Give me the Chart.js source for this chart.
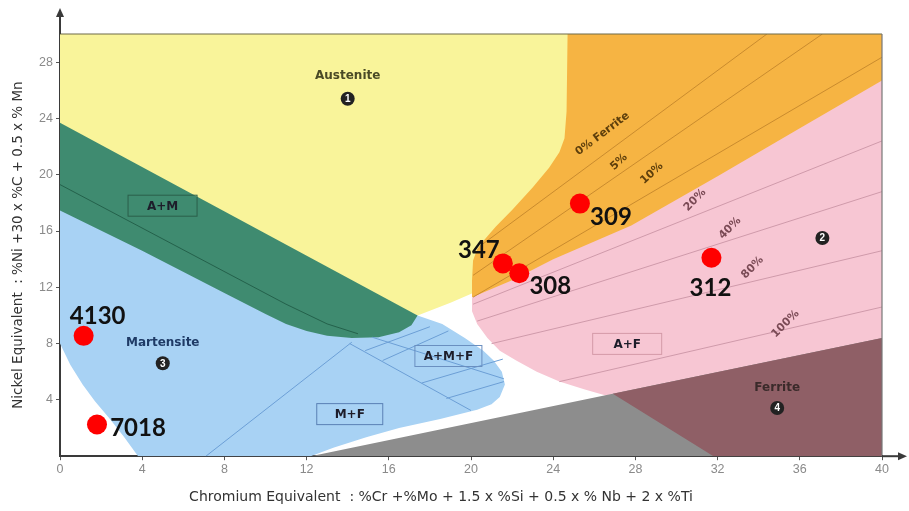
<!DOCTYPE html>
<html>
<head>
<meta charset="utf-8">
<script src="https://cdn.jsdelivr.net/npm/chart.js@4.4.0/dist/chart.umd.min.js"></script>
<style>
  html, body { margin: 0; padding: 0; background: #fff; }
  #wrap { width: 909px; height: 511px; }
</style>
</head>
<body>
<div id="wrap"><canvas id="schaeffler"></canvas></div>
<script>
// tick labels
var xTicks = [0, 4, 8, 12, 16, 20, 24, 28, 32, 36, 40];
var yTicks = [4, 8, 12, 16, 20, 24, 28];

// steels / filler metals plotted on the diagram
var alloyNames = ['309', '347', '308', '312', '4130', '7018'];
var alloyCrEq  = [25.3, 21.55, 22.35, 31.7, 1.15, 1.8];
var alloyNiEq  = [17.95, 13.7, 13.0, 14.1, 8.55, 2.25];

// phase fields, outline as [Cr eq, Ni eq]
var austenite = [[0,30],[40,30],[40,20],[20.1,11.6],[19,10.9],[17.4,10],[0,20]];
var austFerrite5 = [[24.7,30],[40,30],[40,24],[22,11],[20.05,11.3],[20.05,12.5],[20.1,13.9],[20.3,14.7],
  [20.6,15.3],[21.2,16.3],[22,17.5],[23,19.1],[23.8,20.5],[24.3,21.6],[24.55,22.6],[24.65,24.5]];
var austFerrite = [[20.05,11.3],[22,12.5],[24,14.0],[27.8,16.4],[32,19.9],[36,23.3],[40,26.7],[40,8.2],
  [26.6,4.3],[25.5,4.75],[24.3,5.3],[23.2,6.0],[22.2,6.8],[21.4,7.5],[20.8,8.4],[20.3,9.4],[20.05,10.3]];
var martensite = [[0,17.6],[0,8],[0.5,6.5],[1.1,5.1],[1.7,3.9],[2.4,2.7],[3.1,1.4],[3.8,0],[12.2,0],
  [13.3,0.6],[14.9,1.35],[16.5,2.0],[18.5,2.65],[20.3,3.3],[21.0,3.7],[21.4,4.2],[21.65,5.1],[21.5,6.0],
  [21.1,6.8],[20.6,7.5],[19.7,8.4],[18.6,9.4],[17.4,10],[8,14.5]];
var austMart = [[0,23.7],[17.4,10.0],[17.1,9.3],[16.5,8.8],[15.5,8.45],[14.2,8.4],[13,8.55],[12,8.9],
  [11,9.4],[10,10.1],[8,11.6],[4,14.6],[0,17.45]];
var martFerrite = [[12.2,0],[40,8.4],[40,0]];
var ferrite = [[26.9,4.44],[40,8.4],[40,0],[31.8,0]];

// iso ferrite lines
var fe0   = [[20.5,15.0],[34.4,30]];
var fe5   = [[20.1,12.85],[37.1,30]];
var fe10  = [[20.1,11.3],[40,28.35]];
var fe20  = [[20.1,10.8],[40,22.4]];
var fe40  = [[20.3,9.6],[40,18.8]];
var fe80  = [[21.0,8.0],[40,14.6]];
var fe100 = [[24.3,5.3],[40,10.6]];
var amLine = [[0,19.3],[11,10.8],[13,9.4],[14.5,8.7]];
var mLines = [
  [[7.1,0],[14.2,8.1]],
  [[14.1,8.0],[20.0,3.25]],
  [[15.2,8.45],[21.6,5.5]],
  [[14.85,7.5],[18.0,9.2]],
  [[15.7,6.8],[18.9,8.9]],
  [[17.6,5.2],[21.55,6.9]],
  [[18.8,4.1],[21.6,5.3]]
];

var xTitle = 'Chromium Equivalent  : %Cr +%Mo + 1.5 x %Si + 0.5 x % Nb + 2 x %Ti';
var yTitle = 'Nickel Equivalent  : %Ni +30 x %C + 0.5 x % Mn';

var FONT = "'Liberation Sans', Arial, sans-serif";
var WIDE = "'DejaVu Sans', Verdana, sans-serif";

function pts(a) { return a.map(function(p){ return {x: p[0], y: p[1]}; }); }

function area(a, color, order) {
  return { data: pts(a), showLine: true, fill: 'shape', backgroundColor: color, borderColor: color,
    borderWidth: 0, pointRadius: 0, pointHoverRadius: 0, tension: 0, order: order };
}
function line(a, color, order) {
  return { data: pts(a), showLine: true, fill: false, borderColor: color, borderWidth: 1,
    pointRadius: 0, pointHoverRadius: 0, tension: 0, order: order };
}

var datasets = [
  area(austenite, '#f9f49a', 20),
  area(austFerrite5, '#f6b443', 19),
  area(austFerrite, '#f7c6d3', 18),
  area(martensite, '#a8d2f4', 17),
  area(austMart, '#3f8b70', 16),
  area(martFerrite, '#8d8d8d', 15),
  area(ferrite, '#8f5f66', 14),
  line(fe0, '#c98b2e', 5), line(fe5, '#c98b2e', 5), line(fe10, '#c98b2e', 5),
  line(fe20, '#cf9aaa', 5), line(fe40, '#cf9aaa', 5), line(fe80, '#cf9aaa', 5), line(fe100, '#cf9aaa', 5),
  line(amLine, '#24614b', 5)
];
mLines.forEach(function(m){ datasets.push(line(m, '#6c9fd6', 5)); });
datasets.push({
  data: alloyCrEq.map(function(v, i){ return {x: v, y: alloyNiEq[i]}; }),
  backgroundColor: '#ff0000', borderWidth: 0, pointRadius: 10, pointHoverRadius: 10, order: 1
});

// pixel offsets of the sample labels from their dots
var labelOffsets = [[31,14],[-24,-13],[31,13],[-1,30],[14,-20],[41,4]];

var boxes = [
  {t: 'A+M', x: 4.99, y: 17.8, w: 69, c: '#2b5f4a'},
  {t: 'A+M+F', x: 18.9, y: 7.12, w: 67, c: '#6a8fc0'},
  {t: 'M+F', x: 14.1, y: 2.99, w: 66, c: '#5a80b5'},
  {t: 'A+F', x: 27.6, y: 7.98, w: 69, c: '#d49aa8'}
];
var names = [
  {t: 'Austenite', x: 14.0, y: 27.0, c: '#4a4a26', n: '1', ny: 25.4},
  {t: 'Martensite', x: 5.0, y: 8.05, c: '#1f3b66', n: '3', ny: 6.6},
  {t: 'Ferrite', x: 34.9, y: 4.84, c: '#3a2a2a', n: '4', ny: 3.42},
  {t: '', x: 37.1, y: 15.5, c: '#222', n: '2', ny: 15.5}
];
var pctLabels = [
  {t: '0% Ferrite', x: 26.4, y: 22.9, a: -37, c: '#5e3f0c'},
  {t: '5%', x: 27.2, y: 20.9, a: -42, c: '#5e3f0c'},
  {t: '10%', x: 28.8, y: 20.1, a: -42, c: '#5e3f0c'},
  {t: '20%', x: 30.9, y: 18.2, a: -45, c: '#7a4a55'},
  {t: '40%', x: 32.6, y: 16.2, a: -45, c: '#7a4a55'},
  {t: '80%', x: 33.7, y: 13.4, a: -45, c: '#7a4a55'},
  {t: '100%', x: 35.3, y: 9.4, a: -45, c: '#7a4a55'}
];

var overlay = {
  id: 'overlay',
  afterDatasetsDraw: function(chart) {
    var c = chart.ctx, xs = chart.scales.x, ys = chart.scales.y, a = chart.chartArea;
    c.save();
    // frame top and right
    c.strokeStyle = '#6f6a48'; c.lineWidth = 1.2;
    c.beginPath(); c.moveTo(a.left, a.top); c.lineTo(a.right, a.top); c.stroke();
    c.strokeStyle = '#777';
    c.beginPath(); c.moveTo(a.right, a.top); c.lineTo(a.right, a.bottom); c.stroke();

    c.textAlign = 'center'; c.textBaseline = 'middle';
    boxes.forEach(function(b){
      var px = xs.getPixelForValue(b.x), py = ys.getPixelForValue(b.y);
      c.strokeStyle = b.c; c.lineWidth = 1;
      c.strokeRect(px - b.w / 2, py - 10.5, b.w, 21);
      c.fillStyle = '#1d1d2a'; c.font = 'bold 12px ' + WIDE;
      c.fillText(b.t, px, py + 1);
    });
    names.forEach(function(n){
      var px = xs.getPixelForValue(n.x);
      if (n.t) {
        c.fillStyle = n.c; c.font = 'bold 12px ' + WIDE;
        c.fillText(n.t, px, ys.getPixelForValue(n.y));
      }
      var cy = ys.getPixelForValue(n.ny);
      c.fillStyle = '#222';
      c.beginPath(); c.arc(px, cy, 7, 0, Math.PI * 2); c.fill();
      c.fillStyle = '#fff'; c.font = 'bold 10px ' + FONT;
      c.fillText(n.n, px, cy + 0.5);
    });
    pctLabels.forEach(function(p){
      c.save();
      c.translate(xs.getPixelForValue(p.x), ys.getPixelForValue(p.y));
      c.rotate(p.a * Math.PI / 180);
      c.fillStyle = p.c; c.font = 'bold 11px ' + WIDE;
      c.fillText(p.t, 0, 0);
      c.restore();
    });
    // sample names next to the red dots
    c.fillStyle = '#111'; c.font = "bold 24px Lato, 'Noto Sans', sans-serif";
    alloyNames.forEach(function(nm, i){
      var px = xs.getPixelForValue(alloyCrEq[i]) + labelOffsets[i][0];
      var py = ys.getPixelForValue(alloyNiEq[i]) + labelOffsets[i][1];
      c.fillText(nm, px, py);
    });
    c.restore();
  },
  afterDraw: function(chart) {
    var c = chart.ctx, a = chart.chartArea;
    c.save();
    c.strokeStyle = '#3a3a3a'; c.fillStyle = '#3a3a3a'; c.lineWidth = 2;
    c.beginPath(); c.moveTo(a.left, a.top); c.lineTo(a.left, 14); c.stroke();
    c.beginPath(); c.moveTo(a.left, 8); c.lineTo(a.left - 4, 17); c.lineTo(a.left + 4, 17); c.closePath(); c.fill();
    c.beginPath(); c.moveTo(a.right, a.bottom); c.lineTo(899, a.bottom); c.stroke();
    c.beginPath(); c.moveTo(907, a.bottom); c.lineTo(898, a.bottom - 4); c.lineTo(898, a.bottom + 4); c.closePath(); c.fill();
    c.restore();
  }
};

new Chart(document.getElementById('schaeffler'), {
  type: 'scatter',
  data: { datasets: datasets },
  options: {
    responsive: true,
    maintainAspectRatio: false,
    animation: false,
    events: [],
    layout: { padding: { top: 34, right: 27, left: 0, bottom: 0 } },
    plugins: {
      legend: { display: false },
      tooltip: { enabled: false },
      title: {
        display: true, position: 'bottom', text: xTitle, color: '#333',
        font: { size: 14, weight: 'normal', family: WIDE },
        padding: { top: 7, bottom: 5 }
      }
    },
    scales: {
      x: {
        type: 'linear', min: 0, max: 40,
        afterBuildTicks: function(s){ s.ticks = xTicks.map(function(v){ return {value: v}; }); },
        afterFit: function(s){ s.height = 26; },
        grid: { display: true, drawOnChartArea: false, tickLength: 4, color: '#555' },
        border: { display: true, color: '#3a3a3a', width: 2 },
        ticks: { color: '#8a8a8a', font: { size: 12.5, family: FONT }, padding: 2, maxRotation: 0 }
      },
      y: {
        type: 'linear', min: 0, max: 30,
        afterBuildTicks: function(s){ s.ticks = yTicks.map(function(v){ return {value: v}; }); },
        afterFit: function(s){ s.width = 60; },
        grid: { display: true, drawOnChartArea: false, tickLength: 4, color: '#555' },
        border: { display: true, color: '#3a3a3a', width: 2 },
        ticks: { color: '#8a8a8a', font: { size: 12.5, family: FONT }, padding: 3 },
        title: { display: true, text: yTitle, color: '#333', font: { size: 13.5, family: WIDE }, padding: { top: 10, bottom: 0 } }
      }
    }
  },
  plugins: [overlay]
});
</script>
</body>
</html>
